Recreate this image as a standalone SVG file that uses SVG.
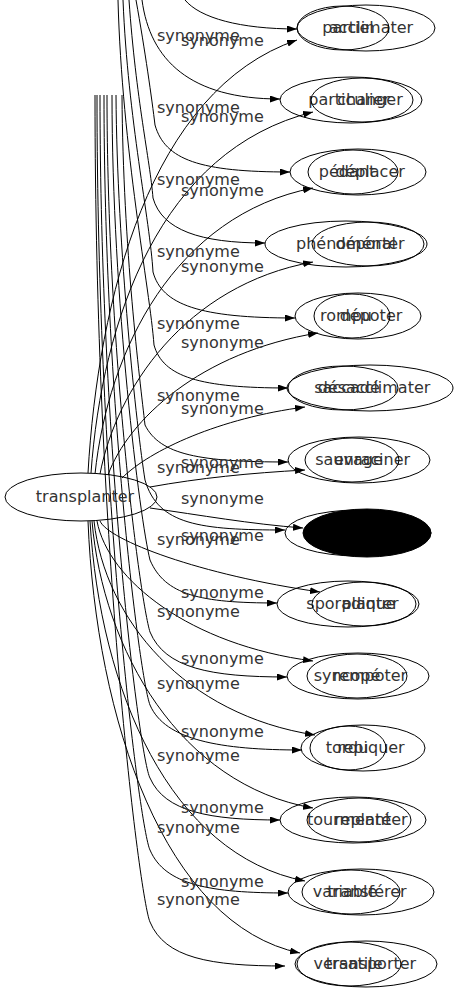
<svg xmlns="http://www.w3.org/2000/svg" width="459" height="995" viewBox="0 0 459 995">
<defs>
<marker id="ah" markerWidth="10" markerHeight="7" refX="10" refY="3.5" orient="auto" markerUnits="userSpaceOnUse">
<path d="M0,0 L10,3.5 L0,7 z" fill="#000"/>
</marker>
<style>
.e{fill:none;stroke:#000;stroke-width:1}
.f{fill:#000;stroke:#000;stroke-width:1}
.t{font-family:"DejaVu Sans",sans-serif;font-size:16px;fill:#333;text-anchor:middle}
.l{font-family:"DejaVu Sans",sans-serif;font-size:16px;fill:#333}
.c path{fill:none;stroke:#000;stroke-width:1}
.c path.a{marker-end:url(#ah)}
</style>
</defs>
<rect width="459" height="995" fill="#fff"/>
<g class="c" id="connectors">
<path class="a" d="M88,473 C98,300 150,90 297,40"/>
<path class="a" d="M91,473 C102,320 160,150 313,112"/>
<path class="a" d="M95,474 C108,350 175,215 313,188"/>
<path class="a" d="M100,474 C116,390 185,285 313,262"/>
<path class="a" d="M108,475 C128,420 200,352 318,333"/>
<path class="a" d="M122,478 C150,450 220,418 305,407"/>
<path class="a" d="M150,487 C200,478 250,473 305,470"/>
<path class="a" d="M150,508 C200,515 250,524 303,528"/>
<path class="a" d="M100,521 C108,540 200,575 320,592"/>
<path class="a" d="M97,521 C108,580 190,645 313,661"/>
<path class="a" d="M94,521 C105,620 185,715 315,735"/>
<path class="a" d="M92,521 C103,650 180,785 313,808"/>
<path class="a" d="M90,521 C100,690 170,855 305,881"/>
<path class="a" d="M88,521 C96,720 165,925 300,953"/>
<path class="a" d="M185,0 C200,18 240,29 297,29"/>
<path class="a" d="M142,0 C150,60 190,99 280,99"/>
<path class="a" d="M136,0 C145,50 152,100 155,125 C165,160 200,172 290,172"/>
<path class="a" d="M129,0 C136,100 150,160 153,198 C162,230 200,243 265,243"/>
<path class="a" d="M123,0 C128,120 150,220 153,272 C162,305 200,318 295,318"/>
<path class="a" d="M118,0 C122,150 150,290 154,345 C163,377 200,388 288,388"/>
<path class="a" d="M122,95 C123,250 140,380 145,425 C160,455 200,462 288,462"/>
<path class="a" d="M116,95 C117,250 137,430 145,480 C158,525 200,530 285,530"/>
<path class="a" d="M112,95 C112,300 140,520 150,560 C165,595 200,603 277,603"/>
<path class="a" d="M107,95 C107,350 140,600 150,632 C165,668 210,677 287,677"/>
<path class="a" d="M104,95 C104,400 140,680 150,705 C165,740 220,750 302,750"/>
<path class="a" d="M100,95 C100,450 140,760 150,778 C165,812 210,820 280,820"/>
<path class="a" d="M97,95 C97,500 140,830 150,850 C165,885 210,893 288,893"/>
<path class="a" d="M95,95 C95,550 140,900 150,922 C165,958 210,966 285,966"/>
</g>
<g id="labels" class="l">
<text x="157" y="41">synonyme</text>
<text x="157" y="113">synonyme</text>
<text x="157" y="185">synonyme</text>
<text x="157" y="257">synonyme</text>
<text x="157" y="329">synonyme</text>
<text x="157" y="401">synonyme</text>
<text x="157" y="473">synonyme</text>
<text x="157" y="545">synonyme</text>
<text x="157" y="617">synonyme</text>
<text x="157" y="689">synonyme</text>
<text x="157" y="761">synonyme</text>
<text x="157" y="833">synonyme</text>
<text x="157" y="905">synonyme</text>
<text x="181" y="46">synonyme</text>
<text x="181" y="122">synonyme</text>
<text x="181" y="196">synonyme</text>
<text x="181" y="272">synonyme</text>
<text x="181" y="348">synonyme</text>
<text x="181" y="414">synonyme</text>
<text x="181" y="468">synonyme</text>
<text x="181" y="504">synonyme</text>
<text x="181" y="541">synonyme</text>
<text x="181" y="598">synonyme</text>
<text x="181" y="664">synonyme</text>
<text x="181" y="737">synonyme</text>
<text x="181" y="813">synonyme</text>
<text x="181" y="887">synonyme</text>
</g>
<g id="transplanter"><ellipse class="e" cx="81" cy="497" rx="76" ry="24"/><text class="t" x="85" y="502">transplanter</text></g>
<g id="acclimater"><ellipse class="e" cx="366" cy="28" rx="69" ry="23"/><text class="t" x="371" y="33">acclimater</text></g>
<g id="partiel"><ellipse class="e" cx="343" cy="28" rx="46" ry="22"/><text class="t" x="348" y="33">partiel</text></g>
<g id="particulier"><ellipse class="e" cx="351" cy="100" rx="71" ry="23"/><text class="t" x="349" y="105">particulier</text></g>
<g id="changer"><ellipse class="e" cx="362" cy="100" rx="51" ry="22"/><text class="t" x="370" y="105">changer</text></g>
<g id="pedant"><ellipse class="e" cx="353" cy="172" rx="45" ry="22"/><text class="t" x="347" y="177">pédant</text></g>
<g id="deplacer"><ellipse class="e" cx="358" cy="172" rx="68" ry="23"/><text class="t" x="370" y="177">déplacer</text></g>
<g id="phenomenal"><ellipse class="e" cx="346" cy="244" rx="81" ry="23"/><text class="t" x="346" y="249">phénoménal</text></g>
<g id="deporter"><ellipse class="e" cx="368" cy="244" rx="56" ry="22"/><text class="t" x="370" y="249">déporter</text></g>
<g id="depoter"><ellipse class="e" cx="358" cy="316" rx="63" ry="23"/><text class="t" x="371" y="321">dépoter</text></g>
<g id="rompu"><ellipse class="e" cx="352" cy="316" rx="38" ry="22"/><text class="t" x="346" y="321">rompu</text></g>
<g id="desacclimater"><ellipse class="e" cx="370" cy="388" rx="83" ry="23"/><text class="t" x="374" y="393">désacclimater</text></g>
<g id="saccade"><ellipse class="e" cx="343" cy="388" rx="55" ry="22"/><text class="t" x="347" y="393">saccadé</text></g>
<g id="enraciner"><ellipse class="e" cx="359" cy="460" rx="71" ry="23"/><text class="t" x="372" y="465">enraciner</text></g>
<g id="sauvage"><ellipse class="e" cx="352" cy="460" rx="47" ry="22"/><text class="t" x="349" y="465">sauvage</text></g>
<g id="node8a"><ellipse class="e" cx="358" cy="533" rx="73" ry="23"/></g>
<g id="node8b"><ellipse class="f" cx="367" cy="533" rx="64" ry="24"/></g>
<g id="sporadique"><ellipse class="e" cx="348" cy="604" rx="71" ry="23"/><text class="t" x="351" y="609">sporadique</text></g>
<g id="planter"><ellipse class="e" cx="364" cy="604" rx="52" ry="22"/><text class="t" x="370" y="609">planter</text></g>
<g id="syncope"><ellipse class="e" cx="358" cy="676" rx="71" ry="23"/><text class="t" x="347" y="681">syncopé</text></g>
<g id="rempoter"><ellipse class="e" cx="357" cy="676" rx="50" ry="22"/><text class="t" x="370" y="681">rempoter</text></g>
<g id="repiquer"><ellipse class="e" cx="363" cy="748" rx="62" ry="23"/><text class="t" x="371" y="753">repiquer</text></g>
<g id="tordu"><ellipse class="e" cx="348" cy="748" rx="38" ry="22"/><text class="t" x="347" y="753">tordu</text></g>
<g id="tourmente"><ellipse class="e" cx="353" cy="820" rx="73" ry="23"/><text class="t" x="349" y="825">tourmenté</text></g>
<g id="replanter"><ellipse class="e" cx="359" cy="820" rx="52" ry="22"/><text class="t" x="371" y="825">replanter</text></g>
<g id="transferer"><ellipse class="e" cx="361" cy="892" rx="73" ry="23"/><text class="t" x="367" y="897">transférer</text></g>
<g id="variable"><ellipse class="e" cx="351" cy="892" rx="49" ry="22"/><text class="t" x="345" y="897">variable</text></g>
<g id="transporter"><ellipse class="e" cx="366" cy="964" rx="71" ry="23"/><text class="t" x="371" y="969">transporter</text></g>
<g id="versatile"><ellipse class="e" cx="349" cy="964" rx="52" ry="22"/><text class="t" x="348" y="969">versatile</text></g>
</svg>
